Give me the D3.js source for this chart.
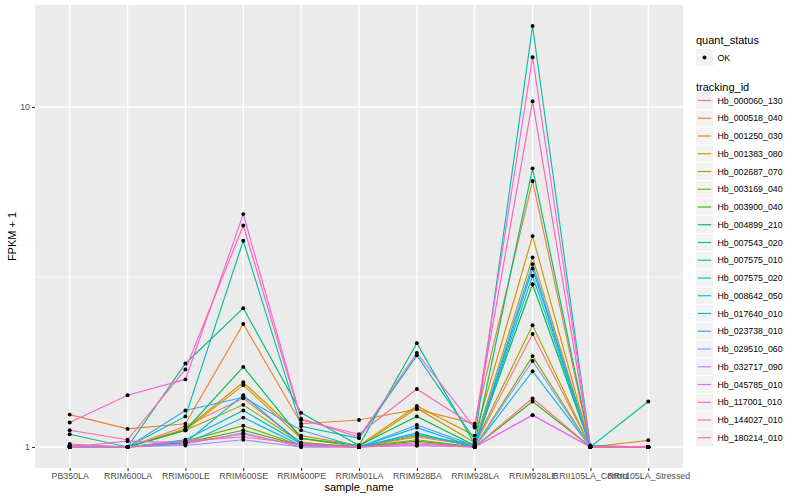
<!DOCTYPE html>
<html><head><meta charset="utf-8">
<script src="https://cdn.jsdelivr.net/npm/d3@7"></script>
<style>body{margin:0;background:#fff}svg{display:block;font-family:"Liberation Sans",Arial,sans-serif}</style>
</head><body><svg id="c" width="800" height="500"></svg>
<script>
const samples = ["PB350LA","RRIM600LA","RRIM600LE","RRIM600SE","RRIM600PE","RRIM901LA","RRIM928BA","RRIM928LA","RRIM928LE","RRII105LA_Control","RRII105LA_Stressed"];
const trackingIds = ["Hb_000060_130","Hb_000518_040","Hb_001250_030","Hb_001383_080","Hb_002687_070","Hb_003169_040","Hb_003900_040","Hb_004899_210","Hb_007543_020","Hb_007575_010","Hb_007575_020","Hb_008642_050","Hb_017640_010","Hb_023738_010","Hb_029510_060","Hb_032717_090","Hb_045785_010","Hb_117001_010","Hb_144027_010","Hb_180214_010"];
const colors = ["#F8766D","#EA8331","#D89000","#C09B00","#A3A500","#7CAE00","#39B600","#00BB4E","#00BF7D","#00C1A3","#00BFC4","#00BAE0","#00B0F6","#35A2FF","#9590FF","#C77CFF","#E76BF3","#FA62DB","#FF62BC","#FF6C91"];
// FPKM + 1 per tracking id, in sample order
const hb000060_130 = [1.02,1.00,1.15,1.39,1.03,1.00,1.07,1.01,2.15,1.00,1.00];
const hb000518_040 = [1.245,1.13,1.17,2.30,1.17,1.20,1.29,1.17,6.06,1.00,1.046];
const hb001250_030 = [1.01,1.00,1.13,1.55,1.08,1.01,1.32,1.08,4.17,1.00,1.00];
const hb001383_080 = [1.01,1.00,1.12,1.52,1.06,1.00,1.30,1.03,3.61,1.00,1.00];
const hb002687_070 = [1.00,1.00,1.12,1.33,1.03,1.00,1.08,1.02,2.28,1.00,1.00];
const hb003169_040 = [1.00,1.00,1.04,1.155,1.01,1.00,1.05,1.00,1.85,1.00,1.00];
const hb003900_040 = [1.00,1.00,1.03,1.12,1.01,1.00,1.04,1.00,1.36,1.00,1.00];
const hb004899_210 = [1.00,1.00,1.12,1.72,1.06,1.01,1.23,1.01,3.01,1.00,1.00];
const hb007543_020 = [1.09,1.00,1.76,2.56,1.26,1.01,2.02,1.02,6.60,1.01,1.00];
const hb007575_010 = [1.00,1.00,1.23,4.04,1.15,1.06,1.86,1.05,17.3,1.00,1.36];
const hb007575_020 = [1.00,1.00,1.05,1.28,1.02,1.00,1.10,1.00,3.19,1.00,1.00];
const hb008642_050 = [1.00,1.00,1.02,1.22,1.01,1.00,1.09,1.00,1.67,1.00,1.00];
const hb017640_010 = [1.00,1.00,1.03,1.42,1.02,1.00,1.14,1.00,3.35,1.00,1.00];
const hb023738_010 = [1.00,1.00,1.28,1.40,1.12,1.00,1.16,1.01,3.45,1.00,1.00];
const hb029510_060 = [1.00,1.00,1.01,1.05,1.00,1.00,1.01,1.00,1.79,1.00,1.00];
const hb032717_090 = [1.00,1.00,1.02,1.10,1.00,1.00,1.02,1.00,1.24,1.00,1.00];
const hb045785_010 = [1.00,1.04,1.03,1.09,1.01,1.00,1.01,1.00,1.24,1.00,1.00];
const hb117001_010 = [1.18,1.42,1.58,4.84,1.21,1.07,1.89,1.14,14.0,1.00,1.00];
const hb144027_010 = [1.12,1.05,1.69,4.48,1.20,1.09,1.48,1.15,10.4,1.00,1.00];
const hb180214_010 = [1.01,1.00,1.04,1.07,1.02,1.00,1.03,1.00,1.39,1.00,1.00];
const yTicks = [1, 10];
const yMinor = [Math.sqrt(10)];

const seriesValues = [hb000060_130,hb000518_040,hb001250_030,hb001383_080,hb002687_070,hb003169_040,hb003900_040,hb004899_210,hb007543_020,hb007575_010,hb007575_020,hb008642_050,hb017640_010,hb023738_010,hb029510_060,hb032717_090,hb045785_010,hb117001_010,hb144027_010,hb180214_010];
const series = trackingIds.map((id,i)=>({id, color:colors[i], values:seriesValues[i].map((v,j)=>({s:samples[j], v}))}));

const svg = d3.select("#c");
const P = {l:35, r:683, t:5, b:468};

const allV = seriesValues.flat();
const lmin = Math.log10(d3.min(allV)), lmax = Math.log10(d3.max(allV));
const ex = (lmax-lmin)*0.05;
const y = d3.scaleLog().domain([Math.pow(10,lmin-ex), Math.pow(10,lmax+ex)]).range([P.b, P.t]);
const x = d3.scalePoint().domain(samples).range([P.l, P.r]).padding(0.6);

svg.append("rect").attr("x",P.l).attr("y",P.t).attr("width",P.r-P.l).attr("height",P.b-P.t).attr("fill","#EBEBEB");
const g = svg.append("g");
g.selectAll("line.ymin").data(yMinor).join("line").attr("x1",P.l).attr("x2",P.r)
  .attr("y1",d=>y(d)).attr("y2",d=>y(d)).attr("stroke","#fff").attr("stroke-width",0.7);
g.selectAll("line.ymaj").data(yTicks).join("line").attr("x1",P.l).attr("x2",P.r)
  .attr("y1",d=>y(d)).attr("y2",d=>y(d)).attr("stroke","#fff").attr("stroke-width",1.4);
g.selectAll("line.xmaj").data(samples).join("line").attr("y1",P.t).attr("y2",P.b)
  .attr("x1",d=>x(d)).attr("x2",d=>x(d)).attr("stroke","#fff").attr("stroke-width",1.4);

const line = d3.line().x(d=>x(d.s)).y(d=>y(d.v));
svg.append("g").selectAll("path").data(series).join("path")
  .attr("d",d=>line(d.values)).attr("fill","none").attr("stroke",d=>d.color).attr("stroke-width",1.15);
svg.append("g").selectAll("g").data(series).join("g").selectAll("circle").data(d=>d.values).join("circle")
  .attr("cx",d=>x(d.s)).attr("cy",d=>y(d.v)).attr("r",1.95).attr("fill","#000");

// axes
const yAxis = d3.axisLeft(y).tickValues(yTicks).tickFormat(d3.format("d")).tickSize(3).tickPadding(2);
const ya = svg.append("g").attr("transform",`translate(${P.l},0)`).call(yAxis);
const xAxis = d3.axisBottom(x).tickSize(3).tickPadding(2);
const xa = svg.append("g").attr("transform",`translate(0,${P.b})`).call(xAxis);
[ya,xa].forEach(a=>{a.select(".domain").remove();
  a.selectAll(".tick line").attr("stroke","#333").attr("stroke-width",1.1);
  a.selectAll(".tick text").attr("fill","#4D4D4D").style("font-size","8.8px").style("font-family","Liberation Sans, Arial, sans-serif");});

svg.append("text").attr("x",(P.l+P.r)/2).attr("y",491).attr("text-anchor","middle")
  .style("font-size","11px").attr("fill","#000").text("sample_name");
svg.append("text").attr("transform",`translate(16,${(P.t+P.b)/2}) rotate(-90)`).attr("text-anchor","middle")
  .style("font-size","11px").attr("fill","#000").text("FPKM + 1");

// legends
const L = svg.append("g");
const lx = 696;
L.append("text").attr("x",lx).attr("y",44).style("font-size","11px").text("quant_status");
L.append("rect").attr("x",lx).attr("y",49).attr("width",17).attr("height",17).attr("fill","#F2F2F2");
L.append("circle").attr("cx",lx+8.5).attr("cy",57.5).attr("r",1.95).attr("fill","#000");
L.append("text").attr("x",lx+21.5).attr("y",60.5).style("font-size","8.8px").text("OK");

L.append("text").attr("x",lx).attr("y",91).style("font-size","11px").text("tracking_id");
const kh = 17.75, k0 = 92;
const items = L.selectAll("g.k").data(series).join("g").attr("transform",(d,i)=>`translate(${lx},${k0+i*kh})`);
items.append("rect").attr("width",17).attr("height",17).attr("fill","#F2F2F2");
items.append("line").attr("x1",1.7).attr("x2",15.3).attr("y1",8.5).attr("y2",8.5).attr("stroke",d=>d.color).attr("stroke-width",1.15);
items.append("text").attr("x",21.5).attr("y",11.5).style("font-size","8.8px").text(d=>d.id);
</script></body></html>
